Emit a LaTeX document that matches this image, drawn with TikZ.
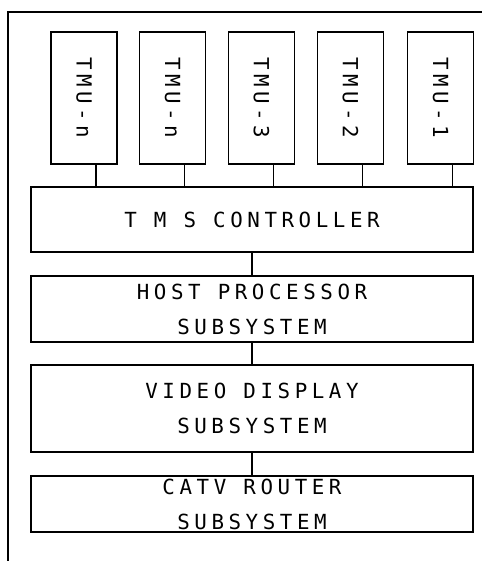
\documentclass[tikz,border=0pt]{standalone}
\usepackage{fontspec}
\newfontfamily\plotfont[LetterSpace=22]{DejaVu Sans Mono}
\begin{document}
\begin{tikzpicture}[x=0.025cm, y=-0.025cm, line width=0.8pt,
    font=\plotfont\fontsize{14.8}{24.8}\selectfont,
    unit/.style={draw, minimum width=1.65cm, minimum height=3.3cm, inner sep=0pt},
    block/.style={draw, minimum width=11.05cm, align=center, inner sep=0pt}]
    \useasboundingbox (0,0) rectangle (485,561);

    % the outer frame (open on the right and at the bottom)
    \coordinate (fbot) at (8,561);
    \coordinate (fcorner) at (8,12);
    \coordinate (fend) at (482,12);
    \draw (fbot) -- (fcorner) -- (fend);

    % the TMU units
    \node[unit] (t1) at (84,98) {\rotatebox{-90}{TMU-n}};
    \node[unit] (t2) at (172.5,98) {\rotatebox{-90}{TMU-n}};
    \node[unit] (t3) at (261.5,98) {\rotatebox{-90}{TMU-3}};
    \node[unit] (t4) at (350.5,98) {\rotatebox{-90}{TMU-2}};
    \node[unit] (t5) at (440.5,98) {\rotatebox{-90}{TMU-1}};

    % the stack of subsystems
    \node[block, minimum height=1.625cm] (ctrl) at (252,219.5) {T M S CONTROLLER};
    \node[block, minimum height=1.65cm] (host) at (252,309) {HOST PROCESSOR\\SUBSYSTEM};
    \node[block, minimum height=2.175cm] (video) at (252,408.5) {VIDEO DISPLAY\\SUBSYSTEM};
    \node[block, minimum height=1.4cm] (catv) at (252,504) {CATV ROUTER\\SUBSYSTEM};

    % the links
    \draw ([xshift=0.3cm]t1.south) -- ([xshift=0.3cm]t1.south |- ctrl.north);
    \draw ([xshift=0.3cm]t2.south) -- ([xshift=0.3cm]t2.south |- ctrl.north);
    \draw ([xshift=0.3cm]t3.south) -- ([xshift=0.3cm]t3.south |- ctrl.north);
    \draw ([xshift=0.3cm]t4.south) -- ([xshift=0.3cm]t4.south |- ctrl.north);
    \draw ([xshift=0.3cm]t5.south) -- ([xshift=0.3cm]t5.south |- ctrl.north);
    \draw (ctrl) -- (host);
    \draw (host) -- (video);
    \draw (video) -- (catv);
\end{tikzpicture}
\end{document}
